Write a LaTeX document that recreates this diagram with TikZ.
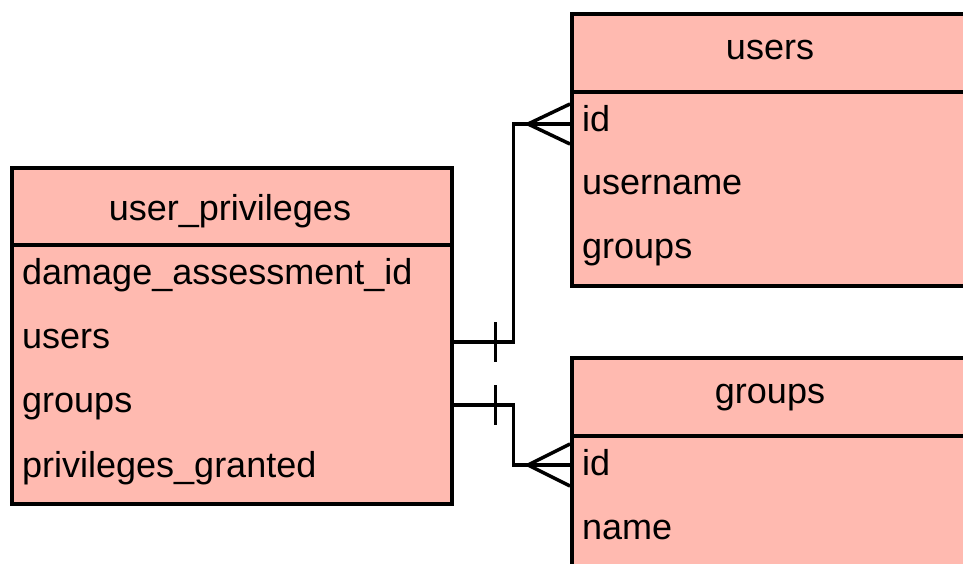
\documentclass[tikz,border=0pt]{standalone}
\usepackage{fontspec}
\setmainfont{Liberation Sans}
\definecolor{entityfill}{HTML}{FFBAB0}
\tikzset{
  tbl/.style={draw=black, line width=3.5pt, fill=entityfill, inner sep=0pt, rectangle},
  rule/.style={draw=black, line width=3.5pt},
  field/.style={anchor=base west, inner sep=0pt, font=\fontsize{36}{40}\selectfont},
  title/.style={anchor=base, inner sep=0pt, font=\fontsize{36}{40}\selectfont},
  rel/.style={draw=black, line width=3.5pt},
}
\begin{document}
\begin{tikzpicture}[x=1pt,y=-1pt]
\useasboundingbox (0,0) rectangle (963,563);
\clip (0,0) rectangle (963,563);

% user_privileges table
\node[tbl, minimum width=440pt, minimum height=336pt, anchor=north west] (up) at (10,166) {};
\draw[rule] (10,245) -- (450,245);
\node[title] (upT) at (230,220) {user\_privileges};
\node[field] (upDmg) at (22,284) {damage\_assessment\_id};
\node[field] (upUsers) at (22,348) {users};
\node[field] (upGroups) at (22,412) {groups};
\node[field] (upPriv) at (22,477) {privileges\_granted};

% users table
\node[tbl, minimum width=400pt, minimum height=272pt, anchor=north west] (us) at (570,12) {};
\draw[rule] (570,92) -- (970,92);
\node[title] (usT) at (770,59) {users};
\node[field] (usId) at (582,131) {id};
\node[field] (usName) at (582,194) {username};
\node[field] (usGroups) at (582,258) {groups};

% groups table
\node[tbl, minimum width=400pt, minimum height=260pt, anchor=north west] (gr) at (570,356) {};
\draw[rule] (570,436) -- (970,436);
\node[title] (grT) at (770,403) {groups};
\node[field] (grId) at (582,475) {id};
\node[field] (grName) at (582,539) {name};

% connection ports on the table edges
\coordinate (pUpUsers) at (up.east |- 0,342);
\coordinate (pUpGroups) at (up.east |- 0,405);
\coordinate (pUsId) at (us.west |- 0,124);
\coordinate (pGrId) at (gr.west |- 0,465);

% user_privileges.users -> users.id (one to many)
\draw[rel] (pUpUsers) -- ++(60,0) |- (pUsId);
\draw[rel] ([xshift=42pt]pUpUsers) ++(0,-20) -- ++(0,40);
\draw[rel] ([xshift=-42pt]pUsId) -- ([yshift=-20pt]pUsId);
\draw[rel] ([xshift=-42pt]pUsId) -- ([yshift=20pt]pUsId);

% user_privileges.groups -> groups.id (one to many)
\draw[rel] (pUpGroups) -- ++(60,0) |- (pGrId);
\draw[rel] ([xshift=42pt]pUpGroups) ++(0,-20) -- ++(0,40);
\draw[rel] ([xshift=-42pt]pGrId) -- ([yshift=-21pt]pGrId);
\draw[rel] ([xshift=-42pt]pGrId) -- ([yshift=21pt]pGrId);
\end{tikzpicture}
\end{document}
